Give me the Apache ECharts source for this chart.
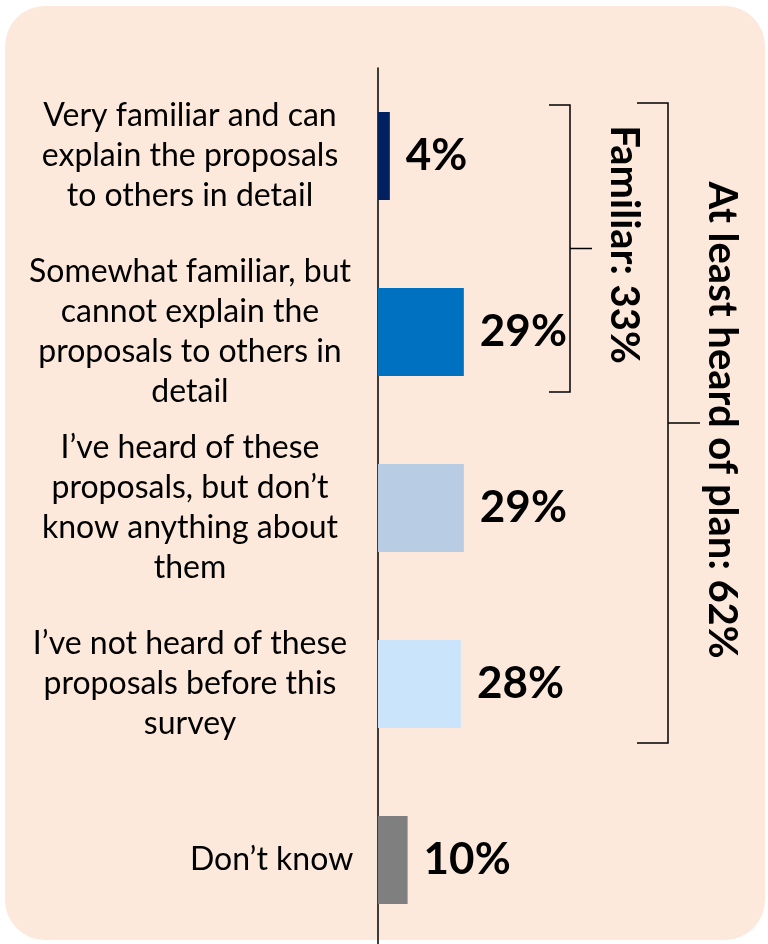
<!DOCTYPE html>
<html>
<head>
<meta charset="utf-8">
<script src="https://cdn.jsdelivr.net/npm/echarts@6/dist/echarts.min.js"></script>
<style>
html,body{margin:0;padding:0;background:#fff;}
#c{width:768px;height:944px;}
</style>
</head>
<body>
<div id="c"></div>
<script>
const categories = [
  'Very familiar and can\nexplain the proposals\nto others in detail',
  'Somewhat familiar, but\ncannot explain the\nproposals to others in\ndetail',
  'I\u2019ve heard of these\nproposals, but don\u2019t\nknow anything about\nthem',
  'I\u2019ve not heard of these\nproposals before this\nsurvey',
  'Don\u2019t know'
];
const values = [4, 29, 29, 28, 10];
const barColors = ['#002060', '#0070C0', '#B8CCE4', '#C9E4FB', '#7F7F7F'];
const familiarLabel = 'Familiar: 33%';
const heardLabel = 'At least heard of plan: 62%';

const FONT = 'Lato, "Liberation Sans", Arial, sans-serif';
const chart = echarts.init(document.getElementById('c'), null, {renderer: 'canvas'});

const yData = categories.map((c, i) => {
  if (i === categories.length - 1) {
    return {value: c, textStyle: {align: 'left'}};
  }
  return c;
});

chart.setOption({
  backgroundColor: 'transparent',
  animation: false,
  grid: {left: 378, top: 68, height: 880, width: 296, containLabel: false, outerBoundsMode: 'none'},
  xAxis: {
    type: 'value', min: 0, max: 100, show: false
  },
  yAxis: {
    type: 'category', inverse: true, data: yData,
    axisLine: {show: true, lineStyle: {color: '#000', width: 1.5}},
    axisTick: {show: false},
    splitLine: {show: false},
    axisLabel: {
      margin: 188, align: 'center', color: '#000',
      fontFamily: FONT, fontSize: 32, lineHeight: 40
    }
  },
  series: [{
    type: 'bar',
    barCategoryGap: '50%',
    data: values.map((v, i) => ({value: v, itemStyle: {color: barColors[i]}})),
    label: {
      show: true, position: 'right', distance: 16,
      formatter: p => p.value + '%',
      color: '#000', fontFamily: FONT, fontWeight: 'bold', fontSize: 44
    }
  }]
});

function drawAnnotations() {
  const yc = i => chart.convertToPixel({yAxisIndex: 0}, i);
  const sTop = yc(0) - 51, sBot = yc(1) + 60;
  const bTop = yc(0) - 53, bBot = yc(3) + 59;
  const line = {stroke: '#000', lineWidth: 1.5, fill: null};
  const sMid = (sTop + sBot) / 2, bMid = (bTop + bBot) / 2;
  chart.setOption({
    graphic: [
      {type: 'rect', z: -10, silent: true,
       shape: {x: 5, y: 6, width: 760, height: 934, r: 40},
       style: {fill: '#FCE9DC'}},
      {type: 'polyline', shape: {points: [[549, sTop], [570, sTop], [570, sBot], [549, sBot]]}, style: line},
      {type: 'line', shape: {x1: 570, y1: sMid, x2: 592, y2: sMid}, style: {stroke: '#000', lineWidth: 1.5}},
      {type: 'polyline', shape: {points: [[637, bTop], [668, bTop], [668, bBot], [637, bBot]]}, style: line},
      {type: 'line', shape: {x1: 668, y1: bMid, x2: 700, y2: bMid}, style: {stroke: '#000', lineWidth: 1.5}},
      {type: 'text', x: 624, y: sMid - 4, rotation: -Math.PI / 2,
       style: {text: familiarLabel, fill: '#000', font: 'bold 40px ' + FONT, align: 'center', verticalAlign: 'middle'}},
      {type: 'text', x: 722, y: bMid - 3, rotation: -Math.PI / 2,
       style: {text: heardLabel, fill: '#000', font: 'bold 40px ' + FONT, align: 'center', verticalAlign: 'middle'}}
    ]
  });
}
drawAnnotations();
</script>
</body>
</html>
